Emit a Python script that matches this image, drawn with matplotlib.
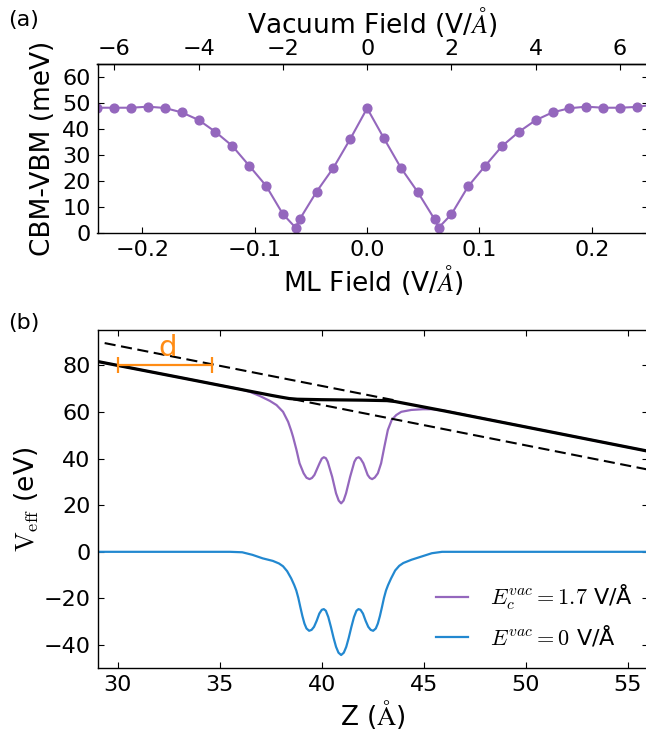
import numpy as np
import matplotlib
matplotlib.use("Agg")
import matplotlib.pyplot as plt

# ---------------- data ----------------
# panel (a): gap vs field (vacuum field values, V/A)
VAC_FIELD = [-6.4, -6.0, -5.6, -5.2, -4.8, -4.4, -4.0, -3.6, -3.2, -2.8, -2.4, -2.0,
             -1.7, -1.6, -1.2, -0.8, -0.4, 0.0, 0.4, 0.8, 1.2, 1.6, 1.7, 2.0,
             2.4, 2.8, 3.2, 3.6, 4.0, 4.4, 4.8, 5.2, 5.6, 6.0, 6.4, 6.8]
GAP_MEV = [48.3, 48.3, 48.3, 48.7, 48.2, 46.5, 43.6, 39.0, 33.6, 26.0, 18.3, 7.4,
           2.2, 5.4, 16.0, 25.2, 36.3, 48.1, 36.5, 25.2, 15.9, 5.4, 2.2, 7.3,
           18.1, 25.9, 33.5, 39.0, 43.5, 46.5, 48.1, 48.7, 48.3, 48.3, 48.6, 49.5]
VAC_PER_ML = 6.4 / 0.24   # vacuum field / ML field

# panel (b): effective potential profiles
Z_ZERO = [29.0, 35.5, 36.1, 36.6, 37.1, 37.6, 37.9, 38.1, 38.3, 38.5, 38.65, 38.75,
          38.85, 38.95, 39.05, 39.15, 39.25, 39.38, 39.5, 39.62, 39.75, 39.88, 40.0,
          40.1, 40.2, 40.32, 40.45, 40.58, 40.7, 40.82, 40.95, 41.08, 41.2, 41.32,
          41.45, 41.58, 41.7, 41.8, 41.9, 42.02, 42.15, 42.28, 42.4, 42.52, 42.65,
          42.75, 42.85, 42.95, 43.05, 43.15, 43.25, 43.4, 43.6, 43.8, 44.0, 44.4,
          44.9, 45.4, 45.9, 56.0]
V_ZERO = [0.0, 0.0, -0.2, -1.3, -2.8, -3.9, -5.0, -6.2, -8.3, -11.4, -14.3, -16.6,
          -19.8, -23.8, -27.6, -30.8, -32.9, -33.9, -33.5, -32.2, -29.6, -26.5, -24.9,
          -24.6, -25.3, -28.0, -32.3, -37.0, -40.8, -43.3, -44.3, -43.3, -40.8, -37.0,
          -32.3, -28.0, -25.3, -24.6, -24.9, -26.5, -29.6, -32.2, -33.5, -33.9, -32.9,
          -30.8, -27.6, -23.8, -19.8, -16.6, -14.3, -11.4, -8.0, -6.0, -4.8, -3.4,
          -2.0, -0.6, 0.0, 0.0]

Z_FIELD = [29.0, 36.0, 36.47, 36.96, 37.45, 37.78, 38.1, 38.35, 38.5, 38.59, 38.76,
           38.91, 39.11, 39.25, 39.4, 39.52, 39.64, 39.89, 40.0, 40.1, 40.2, 40.29,
           40.51, 40.7, 40.83, 40.95, 41.07, 41.19, 41.39, 41.6, 41.7, 41.81, 41.9,
           42.04, 42.25, 42.36, 42.47, 42.6, 42.75, 42.91, 43.07, 43.24, 43.43,
           43.65, 43.9, 44.39, 44.95, 45.44, 46.0, 56.0]
V_FIELD = [81.7, 69.8, 68.7, 66.9, 64.8, 63.0, 60.1, 55.8, 52.0, 49.4, 43.7,
           38.0, 33.7, 31.8, 31.2, 31.7, 33.0, 38.0, 40.0, 40.6, 40.2, 38.7,
           32.2, 25.1, 22.0, 20.8, 22.0, 25.1, 32.2, 38.7, 40.2, 40.6, 40.0,
           38.0, 33.0, 31.7, 31.2, 31.9, 33.7, 38.0, 45.1, 52.3, 56.6,
           58.7, 60.1, 60.9, 61.2, 61.2, 60.6, 43.2]

Z_AVG = [29.0, 33.0, 36.5, 37.5, 38.0, 38.4, 38.8, 40.0, 42.0, 43.2, 43.6, 44.2, 46.0, 50.0, 53.0, 56.0]
V_AVG = [81.7, 74.9, 68.9, 67.2, 66.4, 65.8, 65.5, 65.3, 65.1, 64.9, 64.5, 63.5, 60.5, 53.6, 48.4, 43.2]

Z_FIT_RIGHT = [29.35, 43.65]
V_FIT_RIGHT = [89.6, 64.9]
Z_FIT_LEFT = [38.6, 56.0]
V_FIT_LEFT = [65.5, 35.3]

D_Z = [30.0, 34.6]
D_V = 80.0
D_LABEL_POS = (32.45, 87.3)

PURPLE = "#9467bd"
BLUE = "#2288d0"
ORANGE = "#ff8c14"

plt.rcParams.update({
    "font.family": "DejaVu Sans",
    "mathtext.fontset": "cm",
    "font.size": 16,
    "axes.linewidth": 1.0,
    "xtick.direction": "in",
    "ytick.direction": "in",
    "xtick.major.size": 4,
    "ytick.major.size": 4,
    "xtick.major.pad": 5,
    "ytick.major.pad": 5,
    "lines.scale_dashes": False,
})

W, H = 646, 737
fig = plt.figure(figsize=(W / 100, H / 100), dpi=100)


def px_axes(left, top, right, bottom):
    return [left / W, 1 - bottom / H, (right - left) / W, (bottom - top) / H]


# ---------------- panel (a) ----------------
ax1 = fig.add_axes(px_axes(97.5, 64.3, 648, 233.3))
ml = np.array(VAC_FIELD) / VAC_PER_ML
ax1.plot(ml, GAP_MEV, "-o", color=PURPLE, lw=1.5, ms=6.3, mec=PURPLE)
ax1.set_xlim(-0.24, 0.25)
ax1.set_ylim(0, 65)
ax1.set_xticks([-0.2, -0.1, 0.0, 0.1, 0.2])
ax1.set_yticks(range(0, 61, 10))
ax1.tick_params(top=False, right=True, labelsize=16)
ax1.set_xlabel("ML Field (V/$\\AA$)", fontsize=19, labelpad=2)
ax1.set_ylabel("CBM-VBM (meV)", fontsize=19, labelpad=4)

sec = ax1.secondary_xaxis("top", functions=(lambda x: x * VAC_PER_ML,
                                            lambda v: v / VAC_PER_ML))
sec.set_xticks([-6, -4, -2, 0, 2, 4, 6])
sec.tick_params(direction="in", labelsize=16, pad=4)
sec.set_xlabel("Vacuum Field (V/$\\AA$)", fontsize=19, labelpad=4)

fig.text(8 / W, 1 - 20 / H, "(a)", fontsize=16, va="center", ha="left")

# ---------------- panel (b) ----------------
ax2 = fig.add_axes(px_axes(97.5, 330.5, 648, 668.3))
ax2.plot(Z_FIELD, V_FIELD, color=PURPLE, lw=1.6,
         label="$E_c^{vac} = 1.7$ V/Å")
ax2.plot(Z_ZERO, V_ZERO, color=BLUE, lw=1.6,
         label="$E^{vac} = 0$ V/Å")
ax2.plot(Z_FIT_RIGHT, V_FIT_RIGHT, color="black", lw=1.5, dashes=(8, 4))
ax2.plot(Z_FIT_LEFT, V_FIT_LEFT, color="black", lw=1.5, dashes=(8, 4))
ax2.plot(Z_AVG, V_AVG, color="black", lw=2.3)

d_mid = (D_Z[0] + D_Z[1]) / 2
ax2.errorbar([d_mid], [D_V], xerr=[(D_Z[1] - D_Z[0]) / 2], fmt="none",
             ecolor=ORANGE, elinewidth=1.6, capsize=6, capthick=1.6)
ax2.text(D_LABEL_POS[0], D_LABEL_POS[1], "d", color=ORANGE, fontsize=21,
         ha="center", va="center")

ax2.set_xlim(29, 56)
ax2.set_ylim(-50, 95)
ax2.set_xticks([30, 35, 40, 45, 50, 55])
ax2.set_yticks([-40, -20, 0, 20, 40, 60, 80])
ax2.tick_params(top=True, right=True, labelsize=16)
ax2.set_xlabel("Z ($\\mathrm{\\AA}$)", fontsize=19, labelpad=2)
ax2.set_ylabel("$\\mathrm{V_{eff}}$ (eV)", fontsize=19, labelpad=2)
ax2.legend(loc="lower right", bbox_to_anchor=(1.01, 0.0), frameon=False,
           fontsize=16, handlelength=1.45, handletextpad=1.0, labelspacing=0.5)

fig.text(8 / W, 1 - 323 / H, "(b)", fontsize=16, va="center", ha="left")

fig.savefig("out.png", dpi=100)
